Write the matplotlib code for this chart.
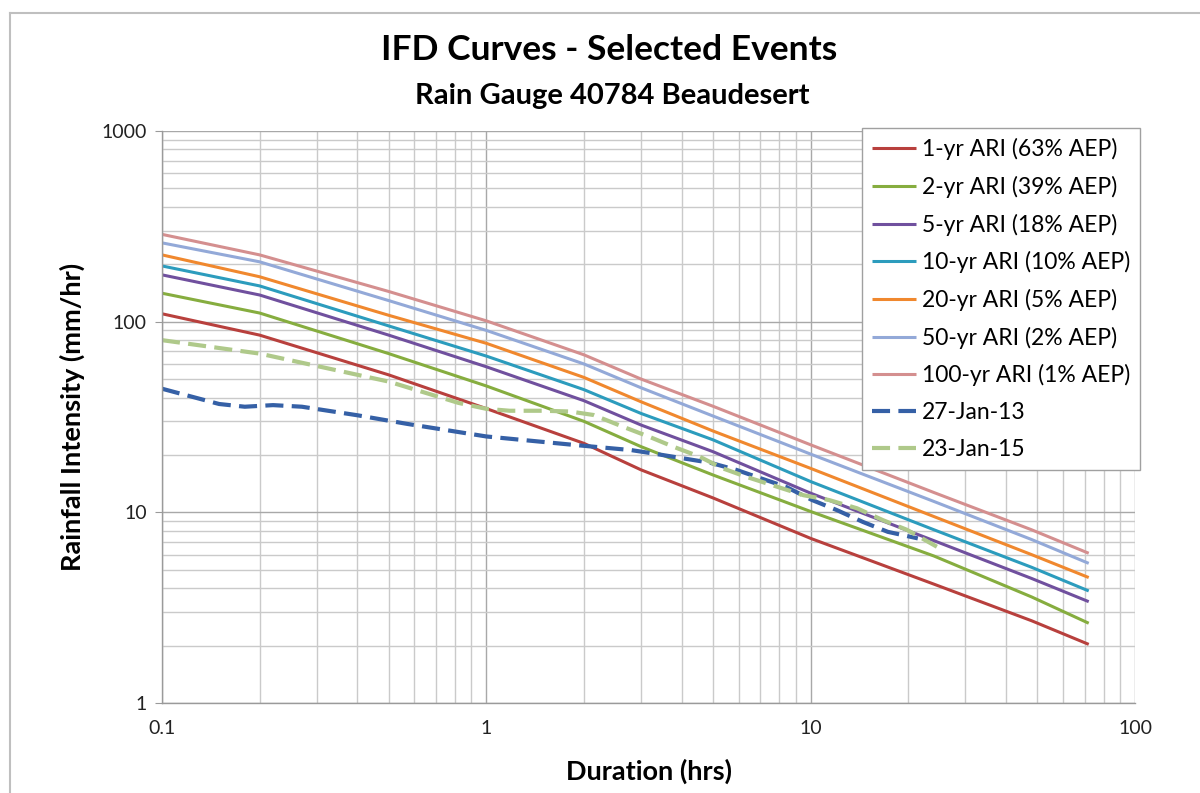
import matplotlib
matplotlib.use("Agg")
import matplotlib.pyplot as plt
from matplotlib.lines import Line2D
from matplotlib.ticker import LogLocator, FixedLocator, FixedFormatter, NullFormatter

plt.rcParams['font.family'] = ['Lato', 'DejaVu Sans']
plt.rcParams['lines.scale_dashes'] = False

# ---- data ----
durations = [0.1, 0.2, 0.5, 1, 2, 3, 5, 10, 24, 48, 72]
ari_1 = [110, 85, 52.6, 35, 23, 16.7, 11.9, 7.3, 4.2, 2.7, 2.03]
ari_2 = [141, 111, 68, 46, 30, 22.1, 15.7, 10.1, 5.9, 3.6, 2.62]
ari_5 = [176, 138, 85, 58, 38.5, 28.7, 20.8, 12.6, 7.1, 4.5, 3.4]
ari_10 = [196, 154, 95, 66, 44, 33, 24, 14.5, 8.1, 5.15, 3.87]
ari_20 = [224, 172, 108, 77, 51, 38, 26.7, 17.0, 9.5, 6.0, 4.55]
ari_50 = [259, 206, 129, 90, 60, 45, 32, 20.2, 11.4, 7.2, 5.4]
ari_100 = [287, 224, 144, 101, 67, 50, 36, 22.6, 12.7, 8.1, 6.1]

ev13_dur = [0.1, 0.15, 0.18, 0.22, 0.27, 0.4, 0.57, 1.0, 1.85, 2.8, 3.36, 4.9, 5.9, 7.0, 8.4, 10.1, 12.0, 14.5, 17.3, 21.4]
ev13_val = [44.5, 37.0, 35.8, 36.5, 35.8, 32.3, 29.1, 25.0, 22.6, 21.2, 20.2, 18.2, 16.7, 15.1, 13.6, 11.6, 10.3, 8.9, 7.9, 7.3]

ev15_dur = [0.1, 0.2, 0.5, 0.82, 1.0, 1.18, 1.49, 1.81, 2.14, 2.64, 3.18, 3.77, 4.54, 5.36, 6.3, 9.5, 11.4, 13.9, 16.7, 19.8, 24.5]
ev15_val = [80, 68, 48.5, 37.5, 34.9, 34.1, 34.1, 33.8, 32.4, 28.1, 24.9, 22.1, 19.6, 17.0, 15.4, 12.3, 11.6, 10.5, 9.1, 8.1, 6.6]

labels = ['1-yr ARI (63% AEP)', '2-yr ARI (39% AEP)', '5-yr ARI (18% AEP)',
          '10-yr ARI (10% AEP)', '20-yr ARI (5% AEP)', '50-yr ARI (2% AEP)',
          '100-yr ARI (1% AEP)', '27-Jan-13', '23-Jan-15']
colors = ['#B8403D', '#86AD3F', '#70509E', '#2C9CBD', '#F0882E', '#93A9D8',
          '#D48F8F', '#3560A6', '#AFC98A']

x_ticks = [0.1, 1, 10, 100]
x_ticklabels = ['0.1', '1', '10', '100']
y_ticks = [1, 10, 100, 1000]
y_ticklabels = ['1', '10', '100', '1000']

fig = plt.figure(figsize=(12, 7.93), dpi=100)
ax = fig.add_axes([162/1200, 1-703/793, (1135-162)/1200, (703-131)/793])

ifd = [ari_1, ari_2, ari_5, ari_10, ari_20, ari_50, ari_100]
for vals, lab, c in zip(ifd, labels[:7], colors[:7]):
    ax.plot(durations, vals, color=c, lw=2.2, label=lab, solid_capstyle='butt')
ax.plot(ev13_dur, ev13_val, color=colors[7], lw=3.0, dashes=(13, 6), label=labels[7])
ax.plot(ev15_dur, ev15_val, color=colors[8], lw=3.0, dashes=(13, 6), label=labels[8])

ax.set_xscale('log')
ax.set_yscale('log')
ax.set_xlim(0.1, 100)
ax.set_ylim(1, 1000)

ax.xaxis.set_major_locator(FixedLocator(x_ticks))
ax.xaxis.set_major_formatter(FixedFormatter(x_ticklabels))
ax.yaxis.set_major_locator(FixedLocator(y_ticks))
ax.yaxis.set_major_formatter(FixedFormatter(y_ticklabels))
ax.xaxis.set_minor_locator(LogLocator(base=10, subs=range(2, 10)))
ax.yaxis.set_minor_locator(LogLocator(base=10, subs=range(2, 10)))
ax.xaxis.set_minor_formatter(NullFormatter())
ax.yaxis.set_minor_formatter(NullFormatter())

ax.grid(which='major', color='#A8A8A8', lw=1.0)
ax.grid(which='minor', color='#CACACA', lw=1.0)
ax.set_axisbelow(True)

for s in ['top', 'right']:
    ax.spines[s].set_visible(False)
for s in ['left', 'bottom']:
    ax.spines[s].set_color('#9A9A9A')
    ax.spines[s].set_linewidth(1.0)

ax.tick_params(which='major', length=5, color='#9A9A9A', labelsize=14, pad=6, labelcolor='#222222')
ax.tick_params(which='minor', length=0)
ax.tick_params(axis='x', which='major', length=0, pad=12)

ax.set_xlabel('Duration (hrs)', fontsize=19.5, fontweight='bold', labelpad=16)
ax.set_ylabel('Rainfall Intensity (mm/hr)', fontsize=19.5, fontweight='bold', labelpad=12)

fig.text(0.508, 1-50/793, 'IFD Curves - Selected Events', ha='center', va='center',
         fontsize=25.5, fontweight='bold')
fig.text(0.51, 1-96/793, 'Rain Gauge 40784 Beaudesert', ha='center', va='center',
         fontsize=21, fontweight='bold')

leg = ax.legend(loc='upper left', bbox_to_anchor=(862/1200, 1-128/793),
                bbox_transform=fig.transFigure, fontsize=16.5, frameon=True,
                fancybox=False, edgecolor='#A0A0A0', framealpha=1,
                handlelength=1.9, handletextpad=0.25, labelspacing=0.68,
                borderpad=0.45, borderaxespad=0)
leg.get_frame().set_linewidth(1.0)

# outer chart border
fig.add_artist(Line2D([10/1200, 10/1200], [0, 1-13/793], color='#BFBFBF', lw=1.5,
                      transform=fig.transFigure))
fig.add_artist(Line2D([10/1200, 1], [1-13/793, 1-13/793], color='#BFBFBF', lw=1.5,
                      transform=fig.transFigure))

fig.savefig('out.png', dpi=100)
